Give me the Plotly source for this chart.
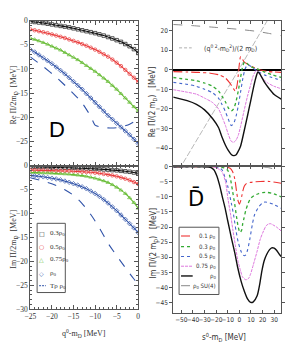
import plotly.graph_objects as go

W, H = 289, 357

# ---------------- Left panels (D) ----------------
q0 = [-25, -24, -23, -22, -21, -20, -19, -18, -17, -16, -15, -14, -13,
      -12, -11, -10, -9, -8, -7, -6, -5, -4, -3, -2, -1, 0]

re_01 = [-0.2, -0.3, -0.4, -0.5, -0.65, -0.8, -0.95, -1.1, -1.25, -1.4, -1.6, -1.8, -2.0,
         -2.2, -2.4, -2.6, -2.85, -3.1, -3.4, -3.7, -4.05, -4.4, -4.85, -5.3, -5.9, -6.7]
re_05 = [-1.8, -2.0, -2.2, -2.4, -2.6, -2.85, -3.1, -3.35, -3.6, -3.9, -4.2, -4.5, -4.85,
         -5.2, -5.6, -6.0, -6.45, -6.95, -7.45, -8.05, -8.7, -9.4, -10.2, -11.0, -11.8, -12.7]
re_075 = [-3.6, -3.9, -4.2, -4.55, -4.9, -5.3, -5.7, -6.1, -6.6, -7.1, -7.6, -8.1, -8.7,
          -9.3, -9.9, -10.5, -11.2, -11.9, -12.6, -13.4, -14.2, -15.1, -16.0, -16.9, -17.8, -18.6]
re_1 = [-6.0, -6.5, -7.1, -7.7, -8.3, -8.9, -9.6, -10.3, -11.0, -11.8, -12.6, -13.4, -14.2,
        -15.1, -16.0, -16.9, -17.8, -18.7, -19.6, -20.4, -21.2, -22.0, -22.8, -23.6, -24.5, -25.4]
tr_re_x = [-25, -22, -19, -16, -13, -11, -10, -8, -6, -4, -2, 0]
tr_re_y = [-7.5, -9.5, -11.7, -14.2, -17.0, -19.8, -21.6, -22.1, -22.2, -22.0, -21.4, -20.4]

im_01 = [-0.2, -0.2, -0.25, -0.25, -0.3, -0.3, -0.35, -0.35, -0.4, -0.4, -0.45, -0.5, -0.5,
         -0.55, -0.6, -0.65, -0.7, -0.75, -0.8, -0.9, -0.95, -1.05, -1.15, -1.25, -1.4, -1.55]
im_05 = [-0.9, -0.9, -0.95, -0.95, -1.0, -1.0, -1.05, -1.05, -1.1, -1.1, -1.15, -1.2, -1.25,
         -1.3, -1.35, -1.45, -1.55, -1.7, -1.85, -2.0, -2.2, -2.45, -2.7, -3.0, -3.4, -3.8]
im_075 = [-1.4, -1.4, -1.45, -1.5, -1.5, -1.55, -1.6, -1.65, -1.7, -1.75, -1.85, -1.95, -2.05,
          -2.2, -2.4, -2.6, -2.85, -3.15, -3.5, -3.95, -4.5, -5.1, -5.8, -6.7, -7.7, -8.9]
im_1 = [-2.0, -2.1, -2.2, -2.3, -2.45, -2.6, -2.75, -2.95, -3.2, -3.45, -3.75, -4.05, -4.4,
        -4.8, -5.3, -5.8, -6.4, -7.05, -7.8, -8.6, -9.4, -10.3, -11.2, -12.1, -13.0, -14.0]
tr_im_x = [-25, -22, -19, -17, -15, -13, -11, -9, -7, -5, -3, -1, 0]
tr_im_y = [-2.5, -3.2, -4.1, -5.0, -6.2, -7.9, -10.2, -13.0, -16.2, -18.8, -21.3, -23.7, -24.8]

left_labels = ["0.3ρ<sub>0</sub>", "0.5ρ<sub>0</sub>", "0.75ρ<sub>0</sub>", "ρ<sub>0</sub>", "Tρ ρ<sub>0</sub>"]

# ---------------- Right panels (Dbar) ----------------
r01_x = [-57, -45, -35, -25, -18, -12, -8, -5, -3.5, -2, -1, 0, 1, 2.5, 4, 7, 10, 14, 18, 24, 30, 36]
r01_y = [-1.0, -1.2, -1.4, -1.8, -2.6, -4.3, -7, -9.8, -11, -8, -3, 3, 6.5, 5.5, 4, 2.8, 1.8, 0.6, -0.2, -0.9, -1.2, -1.4]
r03_x = [-57, -45, -37, -30, -23, -18, -15, -12, -9.7, -7, -5, -3, -1, 1, 3, 4.5, 7, 10, 13, 17, 22, 28, 36]
r03_y = [-4, -5, -5.7, -6.8, -8.5, -10.8, -13.5, -16.5, -19.3, -21, -20, -16.5, -11, -4, 2, 4, 3, 1.5, 0.7, 0, -1.3, -2.6, -4]
r05_x = [-57, -45, -37, -30, -23, -18, -15, -12, -9.7, -7, -5, -3, -1, 1, 3, 5, 7, 9, 12, 16, 22, 28, 36]
r05_y = [-6.5, -7.5, -8.5, -10, -11.8, -14.5, -17.7, -21.5, -25, -28.5, -27.5, -24, -18.5, -11.5, -4.5, 0.5, 2.3, 2, 0.7, -1, -2.8, -4, -5.5]
r075_x = [-57, -45, -37, -30, -23, -18, -15, -12, -9.7, -7, -5, -3, -1, 1, 4, 7, 9.7, 12, 14.7, 17, 20, 25, 30, 36]
r075_y = [-10.2, -11.5, -12.5, -14.5, -16.8, -20, -24, -28.5, -32.7, -36.5, -37, -36, -33.5, -29, -21, -13.5, -7.7, -3, -0.3, -2, -4.5, -7, -8.5, -9.7]
r1_x = [-57, -45, -37, -30, -23, -18, -15, -12, -9.7, -7, -5, -3, -1.4, 1, 4.2, 7, 9.7, 12, 14, 16, 18, 22, 26, 30, 36]
r1_y = [-14, -15.8, -17.7, -20.5, -25, -29.5, -34.3, -38.5, -41, -43.2, -43.8, -43.5, -42, -39, -31, -23.5, -16, -9.5, -4.5, -1.2, -2.5, -6.8, -10, -12.7, -15]
rsu4_x = [-57, -40, -20, 0, 15, 25, 36]
rsu4_y = [23, 22.4, 21.5, 20.5, 19.5, 18.5, 17.3]
diag_x = [-52, 0, 27]
diag_y = [-51, 0.5, 28]

i01_x = [-57, -20, -12, -8, -6, -4, -2.5, -1, 0, 1, 2, 3, 4.2, 6, 9.7, 14, 18, 26, 36]
i01_y = [0, 0, -0.1, -0.5, -1.5, -4, -8, -11.5, -12.4, -11.5, -9.8, -8, -6.5, -5.6, -5.2, -5, -4.9, -4.9, -5.5]
i03_x = [-57, -20, -15, -12, -10, -8, -6, -4, -2.5, -1, 0.5, 2, 2.8, 4, 5.5, 7.5, 9.7, 13, 16.7, 20, 23.6, 28, 32, 36]
i03_y = [0, 0, -0.2, -0.6, -1.2, -3.5, -7.8, -12.5, -16.5, -20, -21.8, -21, -19, -17, -14.5, -12.2, -10.5, -9.5, -8.9, -8.6, -8.5, -8.8, -9.3, -10]
i05_x = [-57, -25, -18, -15, -12.5, -10, -7, -5, -3, -1, 1.4, 3, 4.2, 5.5, 7, 9, 11, 13, 16.7, 20, 22, 26, 30, 36]
i05_y = [0, 0, -0.2, -1, -3.4, -6.5, -12, -16, -21, -25, -28, -29.2, -29.5, -29.2, -27.7, -24, -19.5, -16, -13.3, -12, -11.7, -12, -12.6, -13.8]
i075_x = [-57, -25, -20, -15, -12, -9.7, -7.5, -5.6, -3.5, -1.4, 1, 2.8, 5.6, 8, 9.7, 12, 15.3, 18, 20.8, 23, 25, 27, 29, 32, 36]
i075_y = [0, 0, -0.3, -1.7, -5, -11, -16, -21, -26, -31, -34.5, -36.6, -37.5, -37, -35.5, -32.5, -28, -24, -21.3, -19.6, -19, -18.9, -19.3, -20, -21.3]
i1_x = [-57, -30, -25, -22, -19.5, -17, -15, -12.5, -10, -7, -4, -1.4, 1.5, 4.2, 7, 9.7, 12, 15.3, 17.5, 19.4, 21.5, 23.6, 26, 27.8, 30, 32, 34, 36]
i1_y = [0, 0, -0.2, -1, -3, -6.2, -9.5, -13.4, -18, -23.4, -28.5, -33.5, -38, -41.2, -43.8, -45, -44.8, -42.8, -39, -34.5, -31, -29, -27.5, -26.9, -27, -27.7, -28.8, -29.8]
isu4_x = [-57, 18, 25, 30, 36]
isu4_y = [0, 0, -0.3, -0.8, -1.5]

right_labels = ["0.1 ρ<sub>0</sub>", "0.3 ρ<sub>0</sub>", "0.5 ρ<sub>0</sub>", "0.75 ρ<sub>0</sub>", "ρ<sub>0</sub>", "ρ<sub>0</sub> SU(4)"]

# colours
LBLK, LRED, LGRN, LBLU = "#111111", "#e8393a", "#66bb33", "#2f52a8"
RRED, RGRN, RBLU, RPNK, RBLK, RGRY = "#ee3333", "#33aa33", "#4466cc", "#dd77dd", "#111111", "#888888"

fig = go.Figure()

def mk(x, y, color, sym, xa, ya):
    fig.add_trace(go.Scatter(x=x, y=y, mode="lines+markers", xaxis=xa, yaxis=ya,
                             line=dict(color=color, width=1.1, shape="spline"),
                             marker=dict(symbol=sym, size=3.5, color=color, line=dict(color=color, width=0.7)),
                             showlegend=False, hoverinfo="skip"))

# left top (Re)
mk(q0, re_01, LBLK, "square-open", "x2", "y2")
mk(q0, re_05, LRED, "circle-open", "x2", "y2")
mk(q0, re_075, LGRN, "triangle-up-open", "x2", "y2")
mk(q0, re_1, LBLU, "diamond-open", "x2", "y2")
fig.add_trace(go.Scatter(x=tr_re_x, y=tr_re_y, mode="lines", xaxis="x2", yaxis="y2",
                         line=dict(color=LBLU, width=1.1, dash="dash", shape="spline", smoothing=0.5),
                         showlegend=False, hoverinfo="skip"))
# left bottom (Im)
mk(q0, im_01, LBLK, "square-open", "x", "y")
mk(q0, im_05, LRED, "circle-open", "x", "y")
mk(q0, im_075, LGRN, "triangle-up-open", "x", "y")
mk(q0, im_1, LBLU, "diamond-open", "x", "y")
fig.add_trace(go.Scatter(x=tr_im_x, y=tr_im_y, mode="lines", xaxis="x", yaxis="y",
                         line=dict(color=LBLU, width=1.1, dash="dash", shape="spline"),
                         showlegend=False, hoverinfo="skip"))

def ln(x, y, color, dash, width, xa, ya, shape="spline"):
    fig.add_trace(go.Scatter(x=x, y=y, mode="lines", xaxis=xa, yaxis=ya,
                             line=dict(color=color, width=width, dash=dash, shape=shape, smoothing=0.7),
                             showlegend=False, hoverinfo="skip"))

RD = [("dashdot", RRED, 1.1), ("dot", RGRN, 1.3), ("dot", RBLU, 1.1), ("3px,1px", RPNK, 1.0), ("solid", RBLK, 1.4)]
# right top (Re)
ln(diag_x, diag_y, "#999999", "6px,2px", 0.7, "x4", "y4", "linear")
ln(rsu4_x, rsu4_y, RGRY, "dash", 1.0, "x4", "y4")
for (xx, yy), (d, c, w) in zip([(r01_x, r01_y), (r03_x, r03_y), (r05_x, r05_y), (r075_x, r075_y), (r1_x, r1_y)], RD):
    ln(xx, yy, c, d, w, "x4", "y4")
# right bottom (Im)
ln(isu4_x, isu4_y, RGRY, "dash", 1.0, "x3", "y3")
for (xx, yy), (d, c, w) in zip([(i01_x, i01_y), (i03_x, i03_y), (i05_x, i05_y), (i075_x, i075_y), (i1_x, i1_y)], RD):
    ln(xx, yy, c, d, w, "x3", "y3")

def px(v):
    return v / W

def py(v):
    return 1 - v / H

LX = [px(25), px(136)]
RX = [px(172), px(283)]
TOPD = [py(166), py(17)]
LBOT = [py(313), py(166)]
RBOT = [py(317), py(166)]

SERIF = "Liberation Serif"
SANS = "Liberation Sans Narrow, DejaVu Sans Condensed, Liberation Sans"
lfont = dict(family=SERIF, size=7.5, color="#333333")
rfont = dict(family=SANS, size=6.5, color="#333333")

laxis = dict(showline=True, linecolor="#555555", linewidth=1, mirror="ticks", ticks="inside",
             ticklen=4, tickcolor="#555555", showgrid=False, zeroline=False, tickfont=lfont, tickangle=0,
             minor=dict(ticks="inside", ticklen=2, tickcolor="#555555", dtick=1))
raxis = dict(showline=True, linecolor="#555555", linewidth=1, mirror="ticks", ticklen=3,
             tickcolor="#555555", showgrid=False, tickfont=rfont, tickangle=0)

fig.update_layout(
    width=W, height=H, margin=dict(l=0, r=0, t=0, b=0),
    paper_bgcolor="white", plot_bgcolor="white", showlegend=False,
    xaxis=dict(domain=LX, anchor="y", range=[-25, 0], tickvals=[-25, -20, -15, -10, -5, 0], **laxis),
    yaxis=dict(domain=LBOT, anchor="x", range=[-30, 0], tickvals=[-30, -25, -20, -15, -10, -5, 0], **laxis),
    xaxis2=dict(domain=LX, anchor="y2", range=[-25, 0], matches="x", showticklabels=False,
                tickvals=[-25, -20, -15, -10, -5, 0], **laxis),
    yaxis2=dict(domain=TOPD, anchor="x2", range=[-30, 0], tickvals=[-25, -20, -15, -10, -5, 0], **laxis),
    xaxis3=dict(domain=RX, anchor="y3", range=[-57, 36], tickvals=[-50, -40, -30, -20, -10, 0, 10, 20, 30],
                ticks="inside", zeroline=False, **raxis),
    yaxis3=dict(domain=RBOT, anchor="x3", range=[-48.5, 0.3], tickvals=[-45, -40, -35, -30, -25, -20, -15, -10, -5, 0],
                ticks="outside", zeroline=True, zerolinecolor="#000000", zerolinewidth=1.8, **raxis),
    xaxis4=dict(domain=RX, anchor="y4", range=[-57, 36], matches="x3", showticklabels=False,
                tickvals=[-50, -40, -30, -20, -10, 0, 10, 20, 30], ticks="inside", zeroline=False, **raxis),
    yaxis4=dict(domain=TOPD, anchor="x4", range=[-49, 25], tickvals=[-40, -30, -20, -10, 0, 10, 20],
                ticks="outside", zeroline=True, zerolinecolor="#000000", zerolinewidth=1.8, **raxis),
)

ann = []
shapes = []

def A(xp, yp, text, font, xanchor="center", angle=0):
    ann.append(dict(x=px(xp), y=py(yp), xref="paper", yref="paper", text=text, showarrow=False,
                    xanchor=xanchor, yanchor="middle", textangle=angle, font=font))

# axis titles
A(8, 93, "Re Π/2m<sub>D</sub>  [MeV]", dict(family=SERIF, size=8, color="#333"), angle=-90)
A(8, 241, "Im Π/2m<sub>D</sub>  [MeV]", dict(family=SERIF, size=8, color="#333"), angle=-90)
A(80, 338, "q<sup>0</sup>-m<sub>D</sub> [MeV]", dict(family=SERIF, size=8, color="#333"))
A(152, 100, "Re Π/(2 m<sub>D</sub>)   [MeV]", dict(family=SANS, size=8, color="#333"), angle=-90)
A(152, 245, "Im Π/(2 m<sub>D</sub>)   [MeV]", dict(family=SANS, size=8, color="#333"), angle=-90)
A(224, 342, "s<sup>0</sup>-m<sub>D</sub> [MeV]", dict(family=SANS, size=8, color="#333"))

# panel labels
A(52, 129, "D", dict(family="Liberation Sans", size=22, color="#000"))
A(195, 200, "D\u0304", dict(family="DejaVu Sans", size=21, color="#000"))

# left legend (manual)
shapes.append(dict(type="rect", xref="paper", yref="paper", x0=px(32), x1=px(61), y0=py(296), y1=py(225),
                   line=dict(color="#555555", width=1), fillcolor="white", layer="above"))
lsyms = [("□", LBLK), ("○", LRED), ("△", LGRN), ("◇", LBLU)]
lys = [235, 249, 262, 276, 289]
for (s, c), yy in zip(lsyms, lys[:4]):
    A(37, yy, s, dict(family="DejaVu Sans", size=6, color=c))
shapes.append(dict(type="line", xref="paper", yref="paper", x0=px(34), x1=px(41), y0=py(289), y1=py(289),
                   line=dict(color=LBLU, width=1, dash="2px,1px"), layer="above"))
for t, yy in zip(left_labels, lys):
    A(43, yy, t, dict(family=SERIF, size=7, color="#333"), xanchor="left")

# right legend (manual)
shapes.append(dict(type="rect", xref="paper", yref="paper", x0=px(178), x1=px(219), y0=py(298), y1=py(229),
                   line=dict(color="#555555", width=1), fillcolor="white", layer="above"))
rys = [238, 249, 259, 269, 279, 289]
rstyles = RD + [("dash", RGRY, 1.0)]
for (d, c, w), yy in zip(rstyles, rys):
    shapes.append(dict(type="line", xref="paper", yref="paper", x0=px(180), x1=px(192), y0=py(yy), y1=py(yy),
                       line=dict(color=c, width=w, dash=d), layer="above"))
for t, yy in zip(right_labels, rys):
    A(218, yy, t, dict(family=SANS, size=6, color="#333"), xanchor="right")

# top-right legend entry
shapes.append(dict(type="line", xref="paper", yref="paper", x0=px(178), x1=px(191), y0=py(45), y1=py(45),
                   line=dict(color="#999999", width=0.8, dash="3px,2px"), layer="above"))
A(202, 45, "(q<sup>0 2</sup>-m<sub>D</sub><sup>2</sup>)/(2 m<sub>D</sub>)", dict(family=SANS, size=7, color="#333"),
  xanchor="left")

fig.update_layout(annotations=ann, shapes=shapes)
fig.write_html("out.html", config={"displayModeBar": False},
               post_script="document.body.style.margin='0';document.body.style.padding='0';")
